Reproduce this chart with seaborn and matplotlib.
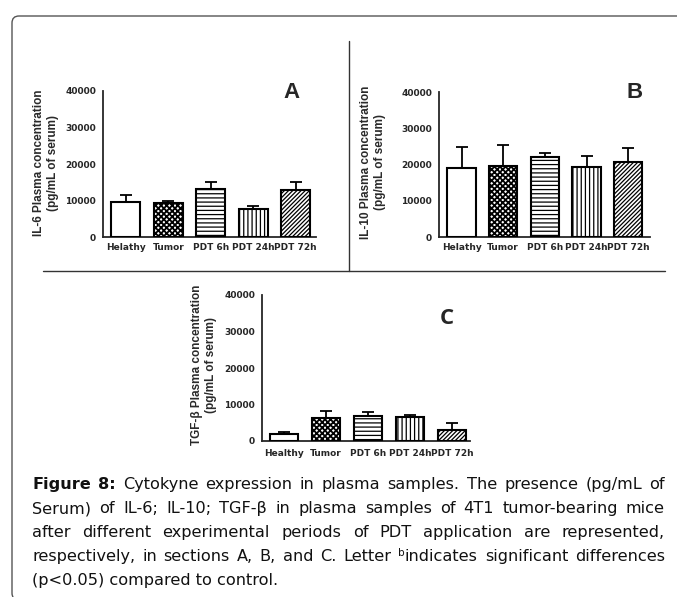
"""
Cytokine plasma levels (IL-6, IL-10, TGF-beta) after PDT, three bar panels
plus the figure caption, laid out like the journal figure.
"""

import numpy as np
import pandas as pd
import matplotlib
matplotlib.use("Agg")
import matplotlib.pyplot as plt
import seaborn as sns
from matplotlib.patches import FancyBboxPatch
from matplotlib.lines import Line2D

# groups (panel C spells "Healthy" correctly, A/B keep the typo)
GROUPS_AB = ["Helathy", "Tumor", "PDT 6h", "PDT 24h", "PDT 72h"]
GROUPS_C = ["Healthy", "Tumor", "PDT 6h", "PDT 24h", "PDT 72h"]

# means and upper error (pg/mL of serum)
IL6_MEAN = [9500, 9300, 13200, 7700, 12900]
IL6_ERR = [1900, 600, 1900, 900, 2200]
IL10_MEAN = [19100, 19600, 22000, 19300, 20800]
IL10_ERR = [5800, 5900, 1200, 3100, 3800]
TGF_MEAN = [1800, 6300, 6800, 6500, 3100]
TGF_ERR = [800, 1900, 1200, 600, 1700]

Y_TICKS = [0, 10000, 20000, 30000, 40000]
HATCHES = ["", "xxxxxx", "----", "||||", "////////"]

W, H = 677, 597
TICK_FONT = "DejaVu Sans"
LABEL_FONT = "Liberation Sans"
CAPTION_FONT = "DejaVu Sans"
CAPTION_SIZE = 11.6

CAPTION = [
    [[("Figure", "bold")], [("8:", "bold")], "Cytokyne", "expression", "in", "plasma",
     "samples.", "The", "presence", "(pg/mL", "of"],
    ["Serum)", "of", "IL-6;", "IL-10;", "TGF-β", "in", "plasma", "samples", "of", "4T1",
     "tumor-bearing", "mice"],
    ["after", "different", "experimental", "periods", "of", "PDT", "application", "are",
     "represented,"],
    ["respectively,", "in", "sections", "A,", "B,", "and", "C.", "Letter",
     [("b", "sup"), ("indicates", "normal")], "significant", "differences"],
]
CAPTION_LAST = "(p<0.05) compared to control."


def px_axes(fig, left, top, right, bottom):
    return fig.add_axes([left / W, 1 - bottom / H, (right - left) / W, (bottom - top) / H])


def draw_panel(ax, groups, means, errs, xlim, xticklen):
    df = pd.DataFrame({"Group": groups, "Value": means})
    sns.barplot(data=df, x="Group", y="Value", color="white", edgecolor="black",
                linewidth=1.5, width=0.68, saturation=1, errorbar=None, ax=ax, zorder=3)
    for patch, h in zip(ax.patches, HATCHES):
        patch.set_hatch(h)
        if h.startswith("x") and hasattr(patch, "set_hatch_linewidth"):
            patch.set_hatch_linewidth(1.3)
    ax.errorbar(np.arange(len(groups)), means, yerr=[np.zeros(len(means)), errs],
                fmt="none", ecolor="black", elinewidth=1.3, capsize=4.5, capthick=1.3,
                zorder=2)
    ax.set_xlim(*xlim)
    ax.set_ylim(0, 40000)
    ax.set_yticks(Y_TICKS)
    ax.set_yticklabels([str(v) for v in Y_TICKS])
    ax.set_xlabel("")
    ax.set_ylabel("")
    sns.despine(ax=ax)
    for side in ["left", "bottom"]:
        ax.spines[side].set_linewidth(1.3)
    ax.tick_params(axis="y", length=4, width=1.2, pad=1)
    ax.tick_params(axis="x", length=xticklen, width=1.2, pad=2 if xticklen else 4)
    for lab in ax.get_xticklabels() + ax.get_yticklabels():
        lab.set_fontfamily(TICK_FONT)
        lab.set_fontweight("bold")
        lab.set_fontsize(6.5)


def ylabel(fig, x, y, text):
    fig.text(x / W, 1 - y / H, text, rotation=90, ha="center", va="center",
             multialignment="center", linespacing=1.15, fontsize=8.5,
             fontweight="bold", family=LABEL_FONT, color="#2a2a2a")


def caption_line(fig, renderer, words, y_base, x0=32, x1=665):
    placed = []
    total = 0
    for word in words:
        parts = word if isinstance(word, list) else [(word, "normal")]
        arts = []
        wsum = 0
        for text, kind in parts:
            size = 7.5 if kind == "sup" else CAPTION_SIZE
            weight = "bold" if kind == "bold" else "normal"
            dy = 5 if kind == "sup" else 0
            t = fig.text(0, 0, text, fontsize=size, fontweight=weight, family=CAPTION_FONT,
                         color="#111111", va="baseline", ha="left")
            w = t.get_window_extent(renderer).width
            arts.append((t, dy, w))
            wsum += w
        placed.append((arts, wsum))
        total += wsum
    gap = max((x1 - x0 - total) / (len(words) - 1), 3)
    x = x0
    for arts, wsum in placed:
        xx = x
        for t, dy, w in arts:
            t.set_position((xx / W, 1 - (y_base - dy) / H))
            xx += w
        x += wsum + gap


def main():
    sns.set_style("white")
    plt.rcParams["font.family"] = [LABEL_FONT, "DejaVu Sans"]
    plt.rcParams["hatch.linewidth"] = 0.9

    fig = plt.figure(figsize=(W / 100, H / 100), dpi=100)
    fig.patch.set_facecolor("white")

    # frame and dividers
    frame = FancyBboxPatch((0.12, -0.03), 8.0, 5.84,
                           boxstyle="round,pad=0,rounding_size=0.07",
                           transform=fig.dpi_scale_trans, fill=False,
                           ec="#555555", lw=1.0)
    fig.add_artist(frame)
    fig.add_artist(Line2D([3.49, 3.49], [(H - 41) / 100, (H - 271) / 100],
                          transform=fig.dpi_scale_trans, color="#333333", lw=1.0))
    fig.add_artist(Line2D([0.43, 6.65], [(H - 271) / 100, (H - 271) / 100],
                          transform=fig.dpi_scale_trans, color="#333333", lw=1.0))

    ax_a = px_axes(fig, 103, 91, 316, 237)
    draw_panel(ax_a, GROUPS_AB, IL6_MEAN, IL6_ERR, (-0.54, 4.48), 0)
    ylabel(fig, 46, 163, "IL-6 Plasma concentration\n(pg/mL of serum)")
    fig.text(291 / W, 1 - 92 / H, "A", ha="center", va="center", fontsize=16,
             fontweight="bold", family=LABEL_FONT)

    ax_b = px_axes(fig, 439, 92, 650, 237)
    draw_panel(ax_b, GROUPS_AB, IL10_MEAN, IL10_ERR, (-0.54, 4.52), 0)
    ylabel(fig, 373, 162, "IL-10 Plasma concentration\n(pg/mL of serum)")
    fig.text(635 / W, 1 - 92 / H, "B", ha="center", va="center", fontsize=16,
             fontweight="bold", family=LABEL_FONT)

    ax_c = px_axes(fig, 262, 295, 470, 441)
    draw_panel(ax_c, GROUPS_C, TGF_MEAN, TGF_ERR, (-0.52, 4.43), 4)
    ylabel(fig, 204, 365, "TGF-β Plasma concentration\n(pg/mL of serum)")
    fig.text(447 / W, 1 - 318 / H, "C", ha="center", va="center", fontsize=16,
             fontweight="bold", family="Open Sans")

    renderer = fig.canvas.get_renderer()
    baselines = [489, 513, 537, 561]
    for words, yb in zip(CAPTION, baselines):
        caption_line(fig, renderer, words, yb)
    fig.text(32 / W, 1 - 585 / H, CAPTION_LAST, fontsize=CAPTION_SIZE, family=CAPTION_FONT,
             color="#111111", va="baseline", ha="left")

    fig.savefig("out.png", dpi=100)


if __name__ == "__main__":
    main()
